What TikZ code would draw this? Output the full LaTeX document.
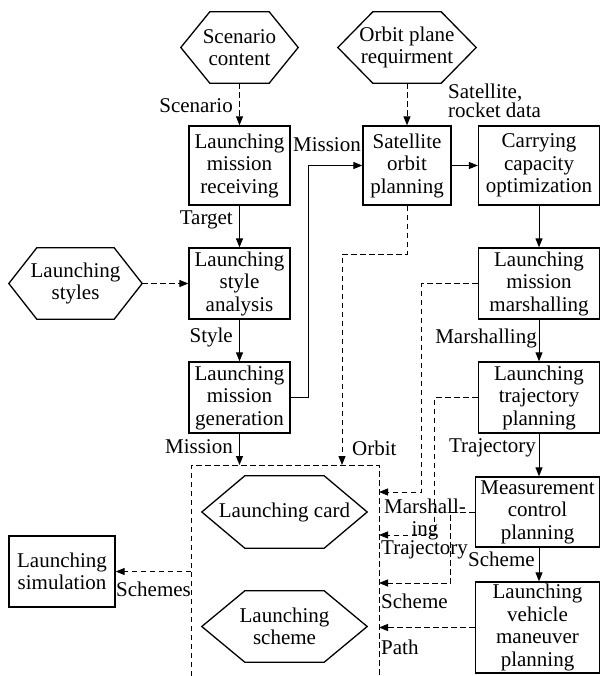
\documentclass[tikz,border=0pt]{standalone}
\usepackage{fontspec}
\setmainfont{Liberation Serif}
\usetikzlibrary{arrows.meta}

% outline of a flat-topped hexagon around an (undrawn) rectangular node
\newcommand\hexoutline[2]{%
  \draw[boxline] (#1.west) -- ([xshift=#2]#1.north west) -- ([xshift=-#2]#1.north east)
    -- (#1.east) -- ([xshift=-#2]#1.south east) -- ([xshift=#2]#1.south west) -- cycle;}

\tikzset{
  txt/.style={font=\fontsize{21}{22.5}\selectfont, align=center, inner sep=0pt},
  boxline/.style={line width=1.3pt, line join=miter},
  procbox/.style={txt, draw, boxline},
  hexbox/.style={txt},
  lbl/.style={font=\fontsize{21}{19}\selectfont, inner sep=0pt},
  flow/.style={line width=0.9pt, -{Triangle[length=9pt,width=7pt]}},
  dflow/.style={flow, dash pattern=on 5.5pt off 3.5pt},
  dline/.style={line width=0.9pt, dash pattern=on 5.5pt off 3.5pt},
}

\begin{document}
\begin{tikzpicture}[x=1pt, y=-1pt]
\useasboundingbox (0,0) rectangle (601,676);

% inputs (hexagons)
\node[hexbox, minimum width=117pt, minimum height=71pt] (sc) at (239.5,47.5) {Scenario\\content};
\hexoutline{sc}{29pt}
\node[hexbox, minimum width=138pt, minimum height=71pt] (opr) at (407,47.5) {Orbit plane\\requirment};
\hexoutline{opr}{35pt}
\node[hexbox, minimum width=133pt, minimum height=71pt] (lst) at (75.5,283.5) {Launching\\styles};
\hexoutline{lst}{28pt}

% left column
\node[procbox, minimum width=101pt, minimum height=79pt] (lmr) at (239.5,165.5) {Launching\\mission\\receiving};
\node[procbox, minimum width=101pt, minimum height=71pt] (lsa) at (239.5,283.5) {Launching\\style\\analysis};
\node[procbox, minimum width=101pt, minimum height=71pt] (lmg) at (239.5,397.5) {Launching\\mission\\generation};

% middle and right column
\node[procbox, minimum width=88pt, minimum height=79pt] (sop) at (407,165.5) {Satellite\\orbit\\planning};
\node[procbox, minimum width=121pt, minimum height=79pt] (cco) at (539,165.5) {Carrying\\capacity\\optimization};
\node[procbox, minimum width=121pt, minimum height=71pt] (lmm) at (539,283.5) {Launching\\mission\\marshalling};
\node[procbox, minimum width=121pt, minimum height=71pt] (ltp) at (539,397.5) {Launching\\trajectory\\planning};
\node[procbox, minimum width=124pt, minimum height=70pt] (mcp) at (537.5,512) {Measurement\\control\\planning};
\node[procbox, minimum width=124pt, minimum height=91pt] (lvmp) at (537.5,627.5) {Launching\\vehicle\\maneuver\\planning};

% simulation
\node[procbox, minimum width=106pt, minimum height=71pt] (lsim) at (62,571.5) {Launching\\simulation};

% output container (open at the bottom)
\coordinate (cbl) at (191,676);
\coordinate (ctl) at (191,465);
\coordinate (ctr) at (379,465);
\coordinate (cbr) at (379,676);
\draw[dline] (cbl) -- (ctl) -- (ctr) -- (cbr);

\node[hexbox, minimum width=165pt, minimum height=72pt] (lc) at (284.5,512) {Launching card};
\hexoutline{lc}{43pt}
\node[hexbox, minimum width=165pt, minimum height=71pt] (lsch) at (284.5,626.5) {Launching\\scheme};
\hexoutline{lsch}{43pt}

% solid flows
\draw[flow] (lmr.south) -- (lsa.north);
\draw[flow] (lsa.south) -- (lmg.north);
\draw[flow] (lmg.south) -- (lmg.south |- ctl);
\draw[flow] (lmg.east) -- ([xshift=18pt]lmg.east) |- (sop.west);
\draw[flow] (sop.east) -- (cco.west);
\draw[flow] (cco.south) -- (lmm.north);
\draw[flow] (lmm.south) -- (ltp.north);
\draw[flow] (ltp.south) -- (ltp.south |- mcp.north);
\draw[flow] (ltp.south |- mcp.south) -- (ltp.south |- lvmp.north);

% dashed flows
\draw[dflow] (sc.south) -- (lmr.north);
\draw[dflow] (opr.south) -- (sop.north);
\draw[dflow] (lst.east) -- (lsa.west);
\coordinate (orbitin) at (342,465);
\draw[dflow] (sop.south) -- ++(0,48.5) -| (orbitin);
\coordinate (marin) at (379,492);
\draw[dflow] (lmm.west) -- ++(-56,0) |- (marin);
\coordinate (trajin) at (379,535);
\draw[dflow] (ltp.west) -- ++(-43,0) |- (trajin);
\coordinate (schin) at (379,583);
\draw[dflow] (mcp.west) -- ++(-24,0) |- (schin);
\draw[dflow] (lvmp.west) -- (lvmp.west -| ctr);
\draw[dflow] (lsim.east -| ctl) -- (lsim.east);

% flow labels
\node[lbl, anchor=east] (lscen) at (233,106) {Scenario};
\node[lbl, anchor=east] (ltarg) at (233,220) {Target};
\node[lbl, anchor=east] (lstyle) at (233,337) {Style};
\node[lbl, anchor=east] (lmis1) at (233,447) {Mission};
\node[lbl, anchor=east] (lmis2) at (361,145) {Mission};
\node[lbl, anchor=north west, align=left] (lsat) at (448,84) {Satellite,\\rocket data};
\node[lbl, anchor=west] (lorb) at (352,448) {Orbit};
\node[lbl, anchor=east] (lmar) at (537,338) {Marshalling};
\node[lbl, anchor=east] (ltraj1) at (536,448) {Trajectory};
\node[lbl, align=center, font=\fontsize{21}{22}\selectfont] (lmar2) at (425,519) {Marshall-\\ing};
\node[lbl, anchor=west] (ltraj2) at (381,550) {Trajectory};
\node[lbl, anchor=west] (lsch1) at (468,559) {Scheme};
\node[lbl, anchor=west] (lsch2) at (381,601) {Scheme};
\node[lbl, anchor=west] (lpath) at (381,647) {Path};
\node[lbl, anchor=west] (lschs) at (116,589) {Schemes};
\end{tikzpicture}
\end{document}
